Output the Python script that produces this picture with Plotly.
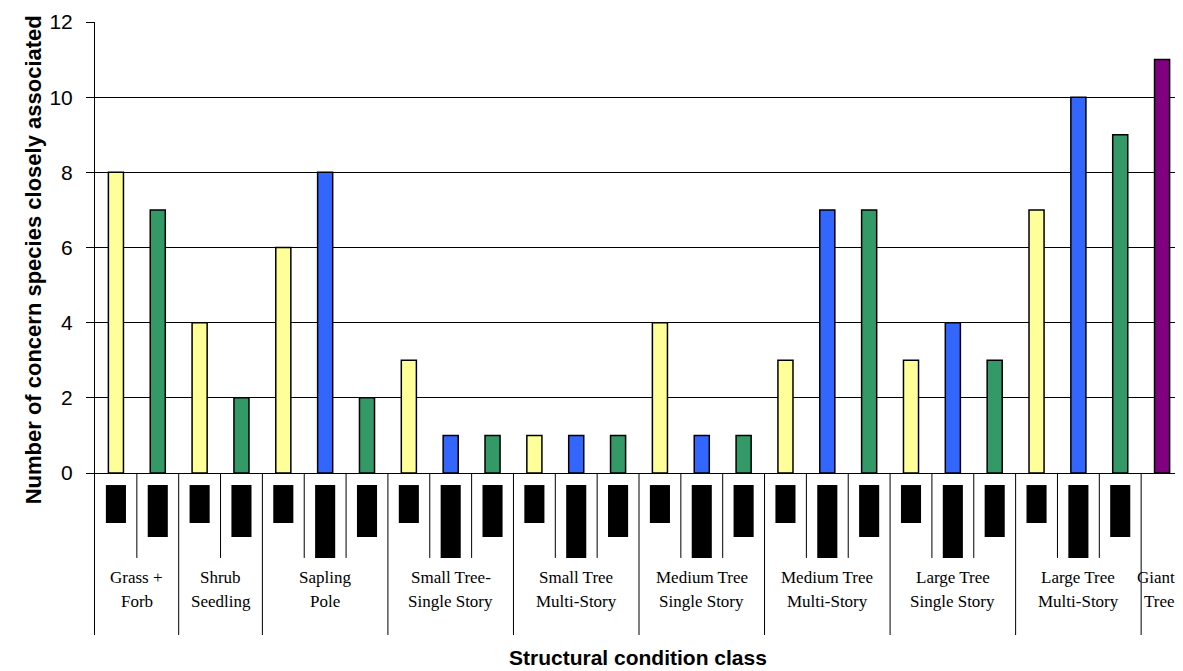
import plotly.graph_objects as go

# structural condition classes (two text lines each)
group_top = ["Grass +", "Shrub", "Sapling", "Small Tree-", "Small Tree", "Medium Tree",
             "Medium Tree", "Large Tree", "Large Tree", "Giant"]
group_bottom = ["Forb", "Seedling", "Pole", "Single Story", "Multi-Story", "Single Story",
                "Multi-Story", "Single Story", "Multi-Story", "Tree"]

# number of concern species per class, one list per series (None = no bar in that class)
yellow_vals = [8, 4, 6, 3, 1, 4, 3, 3, 7, None]
blue_vals = [None, None, 8, 1, 1, 1, 7, 4, 10, None]
green_vals = [7, 2, 2, 1, 1, 1, 7, 3, 9, None]
purple_vals = [None, None, None, None, None, None, None, None, None, 11]

series = [
    ("yellow", yellow_vals, "#FFFF99", -1.33),
    ("blue", blue_vals, "#3366FF", -2.26),
    ("green", green_vals, "#339966", -1.70),
    ("purple", purple_vals, "#800080", None),
]

# lay out the categories: each class gets one slot per series that has a value
slots = {}          # series name -> (x list, y list)
label_depth = []    # (x, depth) for the black sub-labels
group_start, group_end = [], []
idx = 0
for g in range(len(group_top)):
    group_start.append(idx)
    for name, vals, color, depth in series:
        if vals[g] is not None:
            slots.setdefault(name, ([], []))
            slots[name][0].append(idx)
            slots[name][1].append(vals[g])
            if depth is not None:
                label_depth.append((idx, depth))
            idx += 1
    group_end.append(idx)
n_cat = idx

fig = go.Figure()
for name, vals, color, depth in series:
    xs, ys = slots[name]
    fig.add_trace(go.Bar(x=xs, y=ys, width=0.36, marker_color=color,
                         marker_line_color="black", marker_line_width=1.5,
                         name=name, showlegend=False))

Y_BOTTOM = -4.31
shapes = []
# separators between categories: long ones between classes, short ones inside
group_edges = set(group_start)
for b in range(1, n_cat):
    y1 = Y_BOTTOM if b in group_edges else -2.26
    shapes.append(dict(type="line", xref="x", yref="y", x0=b - 0.5, x1=b - 0.5,
                       y0=0, y1=y1, line=dict(color="black", width=1)))
# sub-labels (rendered as solid black blocks in the source)
for x, depth in label_depth:
    shapes.append(dict(type="rect", xref="x", yref="y", x0=x - 0.24, x1=x + 0.24,
                       y0=-0.32, y1=depth, fillcolor="black", line=dict(width=0)))

serif = dict(family="Liberation Serif", size=17, color="black")
annotations = []
for g in range(len(group_top)):
    cx = (group_start[g] + group_end[g] - 1) / 2
    anchor, shift = "center", 0
    if g == len(group_top) - 1:
        # last class sits at the right edge; keep its text inside the page
        cx, anchor, shift = n_cat - 0.5, "right", -6
    annotations.append(dict(x=cx, y=-2.79, xref="x", yref="y", text=group_top[g],
                            xanchor=anchor, xshift=shift, showarrow=False, font=serif))
    annotations.append(dict(x=cx, y=-3.43, xref="x", yref="y", text=group_bottom[g],
                            xanchor=anchor, xshift=shift, showarrow=False, font=serif))

annotations.append(dict(x=-0.0699, y=5.67, xref="paper", yref="y", textangle=-90,
                        text="<b>Number of concern species closely associated</b>",
                        showarrow=False, font=dict(family="Liberation Sans", size=22, color="black")))
annotations.append(dict(x=0.499, y=-0.036, xref="paper", yref="paper", yanchor="middle",
                        text="<b>Structural condition class</b>",
                        showarrow=False, font=dict(family="Liberation Sans", size=21, color="black")))

# page body has an 8px margin, so the figure is 8px smaller and margins shifted
fig.update_layout(
    width=1175, height=663,
    margin=dict(l=87, r=0, t=14, b=36),
    plot_bgcolor="white", paper_bgcolor="white",
    bargap=0.64,
    shapes=shapes, annotations=annotations,
    xaxis=dict(range=[-0.5, n_cat - 0.5], showticklabels=False, showgrid=False,
               zeroline=False, showline=False, ticks=""),
    yaxis=dict(range=[Y_BOTTOM, 12], tickvals=[0, 2, 4, 6, 8, 10, 12],
               showgrid=True, gridcolor="black", gridwidth=1,
               zeroline=True, zerolinecolor="black", zerolinewidth=1,
               showline=True, linecolor="black", linewidth=1,
               ticks="outside", ticklen=8, tickcolor="black", ticklabelstandoff=9,
               tickfont=dict(family="Liberation Sans", size=21, color="black")),
)

fig.write_html("out.html")
